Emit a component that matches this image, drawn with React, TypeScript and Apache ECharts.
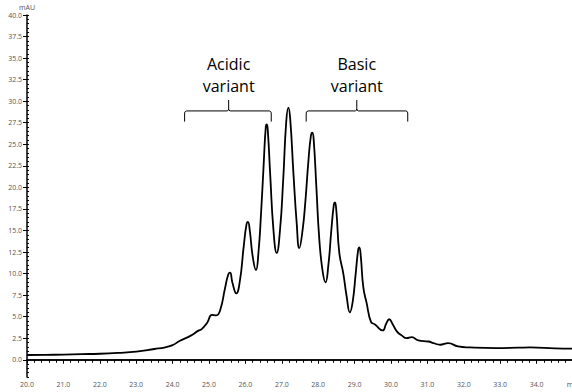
import React, { useEffect, useRef } from "react";
import * as echarts from "echarts";

// Retention time (min)
const times = [
  20.0, 20.5, 21.0, 21.5, 22.0, 22.5, 23.0, 23.5, 23.8, 24.0, 24.2, 24.5, 24.7, 24.8, 24.95,
  25.08, 25.2, 25.31, 25.44, 25.53, 25.58, 25.64, 25.75, 25.85, 25.95, 26.03, 26.07, 26.12,
  26.2, 26.29, 26.36, 26.43, 26.5, 26.56, 26.59, 26.62, 26.68, 26.77, 26.86, 26.95, 27.04,
  27.12, 27.18, 27.23, 27.32, 27.41, 27.48, 27.57, 27.65, 27.73, 27.8, 27.84, 27.88, 27.95,
  28.03, 28.12, 28.2, 28.28, 28.36, 28.43, 28.46, 28.5, 28.58, 28.69, 28.78, 28.87, 28.95,
  29.03, 29.1, 29.13, 29.17, 29.24, 29.33, 29.45, 29.56, 29.77, 29.87, 29.95, 30.05, 30.16,
  30.3, 30.43, 30.57, 30.75, 31.03, 31.17, 31.35, 31.57, 31.84, 32.17, 32.9, 33.5, 33.82,
  34.5, 35.0,
];
// Absorbance (mAU)
const mAU = [
  0.55, 0.57, 0.6, 0.65, 0.7, 0.8, 0.95, 1.25, 1.45, 1.7, 2.2, 2.8, 3.35, 3.55, 4.3,
  5.2, 5.15, 5.8, 8.3, 9.9, 10.1, 9.0, 7.7, 9.2, 13.0, 15.7, 16.0, 15.0,
  12.0, 10.4, 12.5, 17.0, 22.5, 27.0, 27.3, 26.3, 21.6, 15.1, 12.4, 15.0, 21.0,
  27.5, 29.25, 28.0, 21.6, 15.8, 12.95, 15.0, 18.5, 23.0, 26.0, 26.35, 25.3, 20.0,
  14.0, 10.3, 8.97, 11.0, 15.0, 18.0, 18.25, 17.2, 12.4, 10.0, 7.4, 5.5, 6.8,
  10.0, 12.8, 13.05, 12.0, 8.4, 6.6, 4.4, 4.1, 3.4, 4.2, 4.7, 4.1, 3.3,
  2.8, 2.5, 2.63, 2.24, 2.12, 1.93, 1.74, 1.93, 1.55, 1.43, 1.35, 1.4, 1.43,
  1.33, 1.28,
];

// Variant brackets: start, end, centre (min)
const bracketStart = [24.33, 27.67];
const bracketEnd = [26.71, 30.46];
const bracketMid = [25.54, 29.06];
const bracketLine1 = ["Acidic", "Basic"];
const bracketLine2 = ["variant", "variant"];

const yMajorTicks = [0, 2.5, 5, 7.5, 10, 12.5, 15, 17.5, 20, 22.5, 25, 27.5, 30, 32.5, 35, 37.5, 40];

export default function App() {
  const ref = useRef<HTMLDivElement>(null);
  useEffect(() => {
    if (!ref.current) return;
    const chart = echarts.init(ref.current, null, { renderer: "svg" });
    const minorTicks: number[] = [];
    for (let i = -4; i <= 80; i++) minorTicks.push(i * 0.5);
    const labelStyle = { fontSize: 7, color: "#555", fontFamily: "Open Sans" };
    const textStyle = (text: string) => ({
      text,
      fontSize: 16,
      lineHeight: 18,
      fontFamily: "Open Sans",
      fill: "#000",
      align: "center",
      verticalAlign: "middle",
      textAlign: "center",
      textVerticalAlign: "middle",
    });
    chart.setOption({
      animation: false,
      backgroundColor: "#fff",
      grid: { left: 27, right: 1, top: 15, bottom: 15, containLabel: false, outerBoundsMode: "none" },
      xAxis: [
        {
          type: "value",
          min: 20,
          max: 35,
          interval: 1,
          axisLine: { show: true, lineStyle: { color: "#000", width: 1.5 } },
          axisTick: { show: true, length: 4, lineStyle: { color: "#000", width: 1 } },
          minorTick: { show: true, splitNumber: 5, length: 3, lineStyle: { color: "#000", width: 1 } },
          splitLine: { show: false },
          axisLabel: {
            ...labelStyle,
            margin: 4,
            showMaxLabel: true,
            showMinLabel: true,
            hideOverlap: false,
            formatter: (v: number) => (v === 35 ? "min" : v.toFixed(1)),
          },
        },
        {
          type: "value",
          position: "top",
          min: 20,
          max: 35,
          axisLine: { show: true, lineStyle: { color: "#000", width: 1.5 } },
          axisTick: { show: false },
          axisLabel: { show: false },
          splitLine: { show: false },
        },
      ],
      yAxis: [
        {
          type: "value",
          min: -2,
          max: 40,
          name: "mAU",
          nameLocation: "end",
          nameGap: 4,
          nameTextStyle: { ...labelStyle, align: "center" },
          axisLine: { show: true, lineStyle: { color: "#000", width: 1.5 } },
          axisTick: { show: true, length: 4, customValues: yMajorTicks, lineStyle: { color: "#000", width: 1 } },
          splitLine: { show: false },
          axisLabel: {
            ...labelStyle,
            margin: 5,
            customValues: yMajorTicks,
            formatter: (v: number) => v.toFixed(1),
          },
        },
        {
          type: "value",
          min: -2,
          max: 40,
          position: "left",
          axisLine: { show: false },
          axisTick: { show: true, inside: true, length: 2, customValues: minorTicks, lineStyle: { color: "#000", width: 1 } },
          axisLabel: { show: false },
          splitLine: { show: false },
        },
      ],
      series: [
        {
          type: "line",
          xAxisIndex: 0,
          yAxisIndex: 0,
          data: times.map((t, i) => [t, mAU[i]]),
          showSymbol: false,
          smooth: 0.5,
          lineStyle: { color: "#000", width: 1.8 },
          silent: true,
        },
        {
          type: "custom",
          xAxisIndex: 0,
          yAxisIndex: 0,
          silent: true,
          data: bracketStart.map((s, i) => [s, bracketEnd[i], bracketMid[i]]),
          renderItem: (params: any, api: any) => {
            const a = api.value(0);
            const b = api.value(1);
            const m = api.value(2);
            const [xa, yH] = api.coord([a, 28.87]);
            const [xb] = api.coord([b, 28.87]);
            const [xm, yTop] = api.coord([m, 30.14]);
            const yEnd = api.coord([a, 27.63])[1];
            const y1 = api.coord([m, 34.32])[1];
            const y2 = api.coord([m, 31.77])[1];
            const stroke = { stroke: "#000", lineWidth: 1, fill: "none" };
            return {
              type: "group",
              children: [
                {
                  type: "polyline",
                  shape: {
                    points: [
                      [xa, yEnd], [xa, yH + 2], [xa + 0.6, yH + 0.6], [xa + 2, yH],
                      [xm - 1.5, yH], [xm - 0.4, yH - 0.6], [xm, yH - 2], [xm, yTop],
                    ],
                  },
                  style: stroke,
                },
                {
                  type: "polyline",
                  shape: {
                    points: [
                      [xm, yH - 2], [xm + 0.4, yH - 0.6], [xm + 1.5, yH], [xb - 2, yH],
                      [xb - 0.6, yH + 0.6], [xb, yH + 2], [xb, yEnd],
                    ],
                  },
                  style: stroke,
                },
                { type: "text", x: xm, y: y1, style: textStyle(bracketLine1[params.dataIndex]) },
                { type: "text", x: xm, y: y2, style: textStyle(bracketLine2[params.dataIndex]) },
              ],
            };
          },
        },
      ],
    });
    return () => chart.dispose();
  }, []);
  return (
    <div style={{ position: "fixed", left: 0, top: 0, width: 572, height: 392, overflow: "hidden", background: "#fff" }}>
      <div ref={ref} style={{ width: 574, height: 392 }} />
    </div>
  );
}
